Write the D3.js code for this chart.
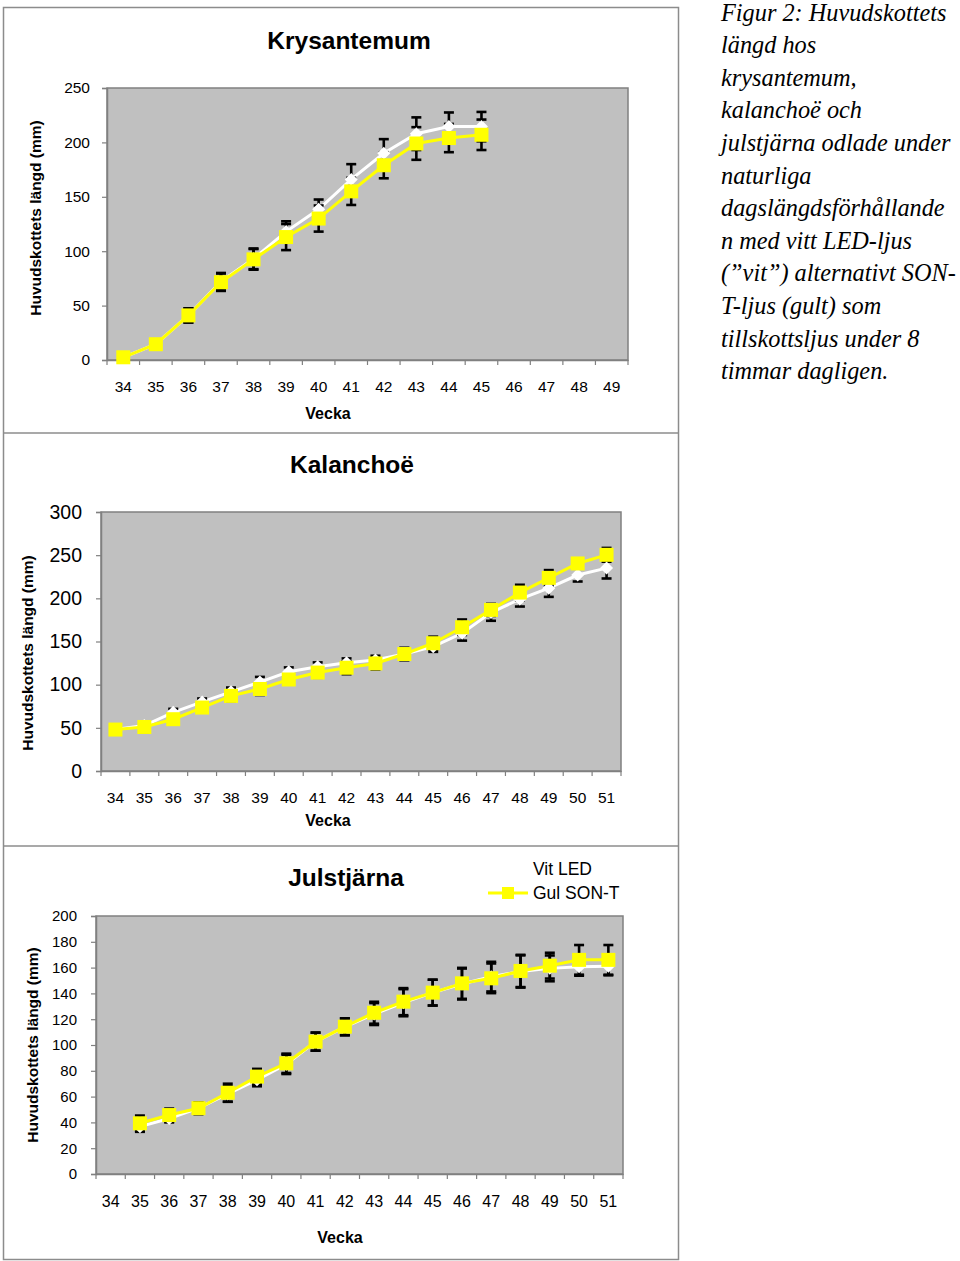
<!DOCTYPE html>
<html>
<head>
<meta charset="utf-8">
<script src="https://cdn.jsdelivr.net/npm/d3@7"></script>
<style>
  html, body { margin: 0; padding: 0; background: #fff; }
  svg { display: block; }
</style>
</head>
<body>
<svg id="chart" width="960" height="1261"></svg>
<script>
// ---------------- DATA ----------------
const seriesNames = ["Vit LED", "Gul SON-T"];

// Krysantemum
const krysCategories = [34,35,36,37,38,39,40,41,42,43,44,45,46,47,48,49];
const krysYTicks = [0,50,100,150,200,250];
const krysWeeks = [34,35,36,37,38,39,40,41,42,43,44,45];
const krysVit = [2.5,14.5,41,72,93,118,138.5,166,190,208,214.5,214.5];
const krysGul = [2.5,14.5,41,71.5,92.5,113,130,155,179,199,204,207];
const krysVitErr = [1,2,6.5,8,9.5,9.5,9,14,13,15,13,13.5];
const krysGulErr = [1,2,6.5,8,9.5,12,12,12.5,12,15,13,14];

// Kalanchoë
const kalCategories = [34,35,36,37,38,39,40,41,42,43,44,45,46,47,48,49,50,51];
const kalYTicks = [0,50,100,150,200,250,300];
const kalWeeks = [34,35,36,37,38,39,40,41,42,43,44,45,46,47,48,49,50,51];
const kalVit = [48,52.6,68,80,91.7,103,115,120.8,125.4,128.5,135.5,144,159.5,183.5,199,211.7,227,235];
const kalGul = [48,51,60,73.5,87,95,106,114,119.6,124.6,135.5,148,166.5,186.6,206.7,223.7,240.4,250.4];
const kalVitErr = [2,5,4,4,5,6,5,5,5,5,7,6,8.5,9.5,8.5,10,7.5,12];
const kalGulErr = [2,6,3,3,6,7,6,6,7.5,7,7,7.6,9,7,9,9,6,8];

// Julstjärna
const julCategories = [34,35,36,37,38,39,40,41,42,43,44,45,46,47,48,49,50,51];
const julYTicks = [0,20,40,60,80,100,120,140,160,180,200];
const julWeeks = [35,36,37,38,39,40,41,42,43,44,45,46,47,48,49,50,51];
const julVit = [36.7,43,51,62,73,85,102.6,114,124,132.8,140.6,147.3,153,157,159.4,160.7,161];
const julGul = [39.3,45.7,51,63,75.5,85.8,102.6,114.2,125,133.6,140.6,147.8,151.7,157.4,161.5,166,166];
const julVitErr = [4,3,4.5,6,5,7.5,7,6.5,8.5,10.5,10,12,11.5,12.5,10,7,7];
const julGulErr = [6,5,4.5,7,6,7.5,7,6.5,8.5,10.5,10,12,11.5,12.5,10,11.5,11.5];

const captionLines = [
  "Figur 2: Huvudskottets",
  "längd hos",
  "krysantemum,",
  "kalanchoë och",
  "julstjärna odlade under",
  "naturliga",
  "dagslängdsförhållande",
  "n med vitt LED-ljus",
  "(\u201dvit\u201d) alternativt SON-",
  "T-ljus (gult) som",
  "tillskottsljus under 8",
  "timmar dagligen."
];

// ---------------- DRAWING ----------------
const svg = d3.select("#chart");
const FONT = "'Liberation Sans', Arial, Helvetica, sans-serif";

// panel frames
const frameColor = "#8c8c8c";
svg.append("rect").attr("x", 3.5).attr("y", 7.5).attr("width", 675).attr("height", 1252)
  .attr("fill", "none").attr("stroke", frameColor).attr("stroke-width", 1.5);
[433, 846].forEach(y => {
  svg.append("line").attr("x1", 3.5).attr("x2", 678.5).attr("y1", y).attr("y2", y)
    .attr("stroke", frameColor).attr("stroke-width", 1.5);
});

function drawPanel(cfg) {
  const g = svg.append("g");
  const x = d3.scaleBand().domain(cfg.categories).range([cfg.left, cfg.right]).paddingInner(0).paddingOuter(0);
  const y = d3.scaleLinear().domain([0, cfg.yMax]).range([cfg.bottom, cfg.top]);
  const cx = w => x(w) + x.bandwidth() / 2;

  // plot area
  g.append("rect").attr("x", cfg.left).attr("y", cfg.top)
    .attr("width", cfg.right - cfg.left).attr("height", cfg.bottom - cfg.top)
    .attr("fill", "#c0c0c0").attr("stroke", "#808080").attr("stroke-width", 1.5);

  // y axis
  const yAxis = d3.axisLeft(y).tickValues(cfg.yTicks).tickSize(5).tickPadding(cfg.yPad).tickFormat(d3.format("d"));
  const ya = g.append("g").attr("transform", `translate(${cfg.left},0)`).call(yAxis);
  ya.select(".domain").attr("stroke", "#808080").attr("stroke-width", 1.5);
  ya.selectAll(".tick line").attr("stroke", "#808080").attr("stroke-width", 1.2);
  ya.selectAll(".tick text").attr("font-family", FONT).attr("font-size", cfg.yFont).attr("fill", "#000");

  // x axis (ticks at category boundaries)
  const xAxis = d3.axisBottom(x).tickSize(0).tickPadding(cfg.xPad);
  const xa = g.append("g").attr("transform", `translate(0,${cfg.bottom})`).call(xAxis);
  xa.select(".domain").attr("stroke", "#808080").attr("stroke-width", 1.5);
  xa.selectAll(".tick text").attr("font-family", FONT).attr("font-size", cfg.xFont).attr("fill", "#000");
  const bounds = cfg.categories.map(c => x(c)).concat([x(cfg.categories[cfg.categories.length - 1]) + x.bandwidth()]);
  g.selectAll(".xb").data(bounds).enter().append("line")
    .attr("x1", d => d).attr("x2", d => d).attr("y1", cfg.bottom).attr("y2", cfg.bottom + 5)
    .attr("stroke", "#808080").attr("stroke-width", 1.2);

  // titles
  g.append("text").attr("x", cfg.titleX).attr("y", cfg.titleY).attr("text-anchor", "middle")
    .attr("dominant-baseline", "central").attr("font-family", FONT).attr("font-weight", "bold")
    .attr("font-size", 24.5).text(cfg.title);
  g.append("text").attr("transform", `translate(${cfg.yLabelX},${cfg.yLabelY}) rotate(-90)`)
    .attr("text-anchor", "middle").attr("dominant-baseline", "central").attr("font-family", FONT)
    .attr("font-weight", "bold").attr("font-size", 15.5).text("Huvudskottets längd (mm)");
  g.append("text").attr("x", cfg.xLabelX).attr("y", cfg.xLabelY).attr("text-anchor", "middle")
    .attr("dominant-baseline", "central").attr("font-family", FONT).attr("font-weight", "bold")
    .attr("font-size", 16).text("Vecka");

  const series = [
    { vals: cfg.vit, err: cfg.vitErr, color: "#ffffff", marker: "diamond" },
    { vals: cfg.gul, err: cfg.gulErr, color: "#ffff00", marker: "square" }
  ];
  const line = d3.line().x(d => cx(d.w)).y(d => y(d.v));

  // lines
  series.forEach(s => {
    const pts = cfg.weeks.map((w, i) => ({ w, v: s.vals[i], e: s.err[i] }));
    s.pts = pts;
    g.append("path").datum(pts).attr("d", line).attr("fill", "none")
      .attr("stroke", s.color).attr("stroke-width", 3);
  });
  // error bars
  series.forEach(s => {
    const eb = g.append("g").attr("stroke", "#000").attr("stroke-width", 2.6);
    s.pts.forEach(p => {
      const X = cx(p.w), y1 = y(p.v + p.e), y0 = y(p.v - p.e);
      eb.append("line").attr("x1", X).attr("x2", X).attr("y1", y1).attr("y2", y0);
      eb.append("line").attr("x1", X - 5).attr("x2", X + 5).attr("y1", y1).attr("y2", y1);
      eb.append("line").attr("x1", X - 5).attr("x2", X + 5).attr("y1", y0).attr("y2", y0);
    });
  });
  // markers
  series.forEach(s => {
    if (s.marker === "diamond") {
      g.selectAll(null).data(s.pts).enter().append("path")
        .attr("d", d => { const X = cx(d.w), Y = y(d.v), r = 6.5; return `M${X},${Y - r}L${X + r},${Y}L${X},${Y + r}L${X - r},${Y}Z`; })
        .attr("fill", "#ffffff");
    } else {
      g.selectAll(null).data(s.pts).enter().append("rect")
        .attr("x", d => cx(d.w) - 7).attr("y", d => y(d.v) - 7)
        .attr("width", 14).attr("height", 14).attr("fill", "#ffff00");
    }
  });
}

drawPanel({
  title: "Krysantemum", categories: krysCategories, yMax: 250, yTicks: krysYTicks,
  weeks: krysWeeks, vit: krysVit, gul: krysGul, vitErr: krysVitErr, gulErr: krysGulErr,
  left: 107, right: 628, top: 88, bottom: 360,
  yFont: 15.5, yPad: 12, xFont: 15.5, xPad: 21,
  titleX: 349, titleY: 40, yLabelX: 35, yLabelY: 218, xLabelX: 328, xLabelY: 413
});

drawPanel({
  title: "Kalanchoë", categories: kalCategories, yMax: 300, yTicks: kalYTicks,
  weeks: kalWeeks, vit: kalVit, gul: kalGul, vitErr: kalVitErr, gulErr: kalGulErr,
  left: 101, right: 621, top: 512, bottom: 771,
  yFont: 19.5, yPad: 14, xFont: 15.5, xPad: 21,
  titleX: 352, titleY: 464, yLabelX: 27, yLabelY: 653, xLabelX: 328, xLabelY: 820
});

drawPanel({
  title: "Julstjärna", categories: julCategories, yMax: 200, yTicks: julYTicks,
  weeks: julWeeks, vit: julVit, gul: julGul, vitErr: julVitErr, gulErr: julGulErr,
  left: 96, right: 623, top: 916, bottom: 1174,
  yFont: 15, yPad: 14, xFont: 16, xPad: 22,
  titleX: 346, titleY: 877, yLabelX: 32, yLabelY: 1045, xLabelX: 340, xLabelY: 1237
});

// legend
const leg = svg.append("g");
const legendRows = [
  { name: seriesNames[0], color: "#ffffff", y: 869, marker: "diamond" },
  { name: seriesNames[1], color: "#ffff00", y: 893, marker: "square" }
];
legendRows.forEach(r => {
  leg.append("line").attr("x1", 488).attr("x2", 528).attr("y1", r.y).attr("y2", r.y)
    .attr("stroke", r.color).attr("stroke-width", 3);
  if (r.marker === "square") {
    leg.append("rect").attr("x", 502).attr("y", r.y - 6).attr("width", 12).attr("height", 12).attr("fill", r.color);
  } else {
    leg.append("path").attr("d", `M508,${r.y - 6}L514,${r.y}L508,${r.y + 6}L502,${r.y}Z`).attr("fill", r.color);
  }
  leg.append("text").attr("x", 533).attr("y", r.y).attr("dominant-baseline", "central")
    .attr("font-family", FONT).attr("font-size", 17.5).text(r.name);
});

// caption
const cap = svg.append("g");
captionLines.forEach((t, i) => {
  cap.append("text").attr("x", 721).attr("y", 12 + i * 32.6).attr("dominant-baseline", "central")
    .attr("font-family", "'Liberation Serif', 'Times New Roman', serif").attr("font-style", "italic")
    .attr("font-size", 24.3).attr("fill", "#000").text(t);
});
</script>
</body>
</html>
